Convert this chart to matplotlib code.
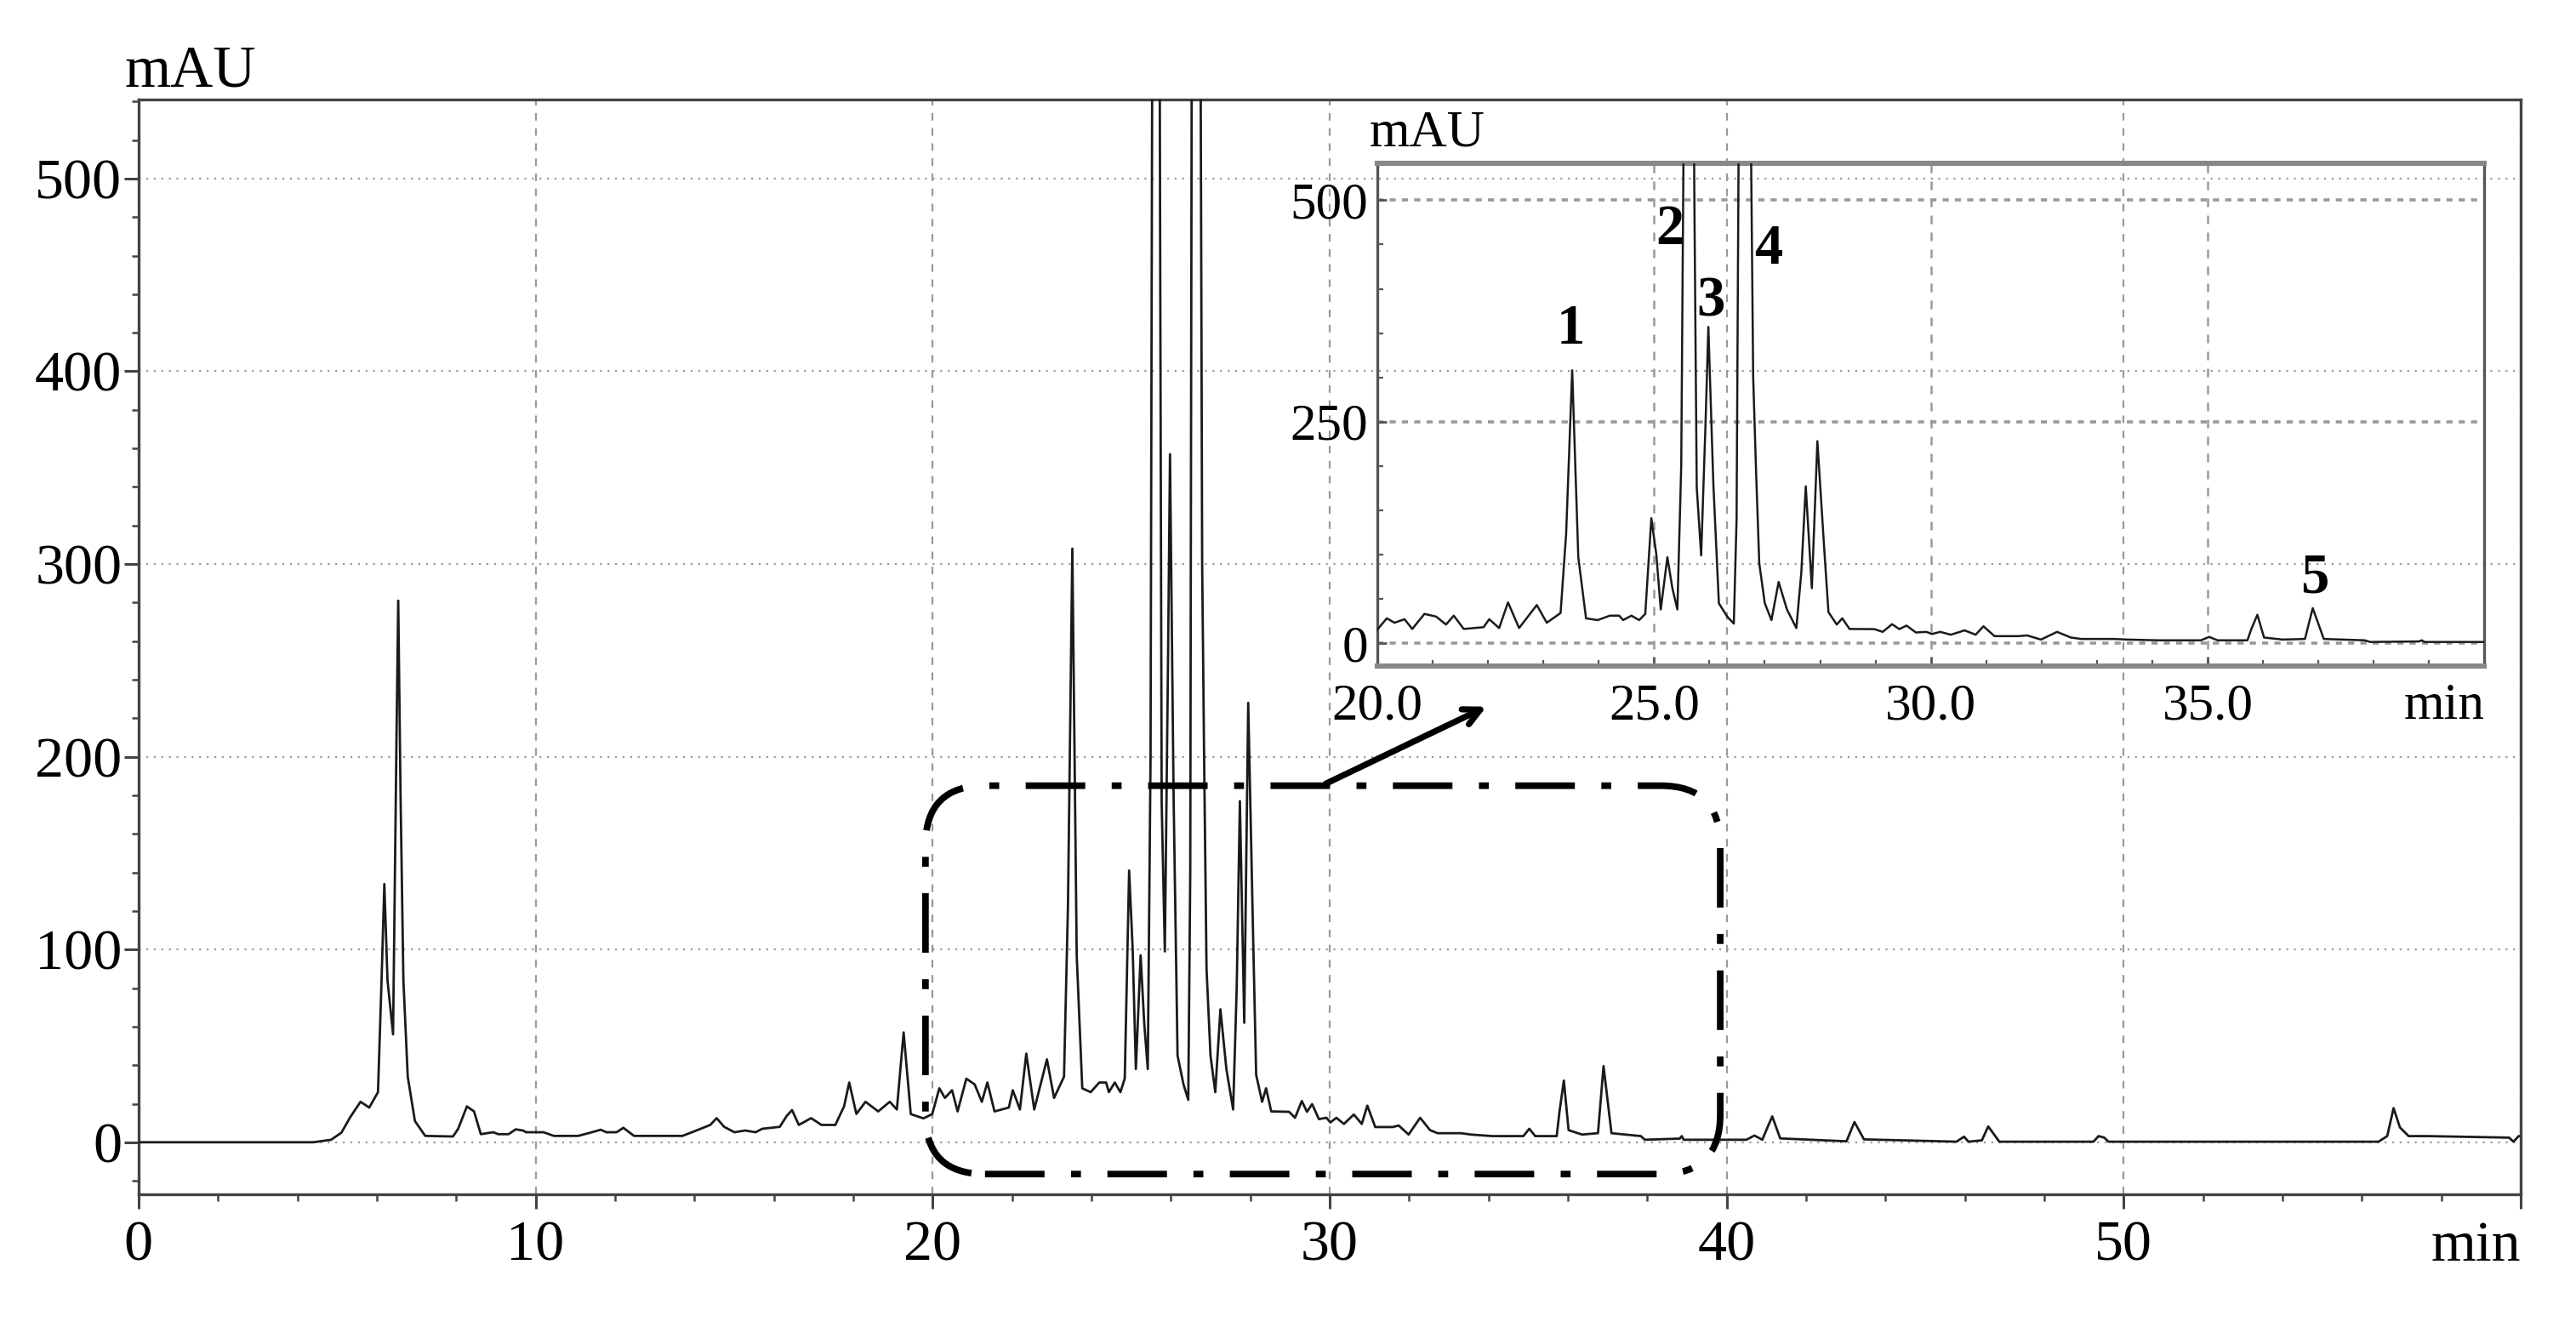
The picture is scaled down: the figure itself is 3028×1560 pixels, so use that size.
import matplotlib.pyplot as plt
from matplotlib.patches import FancyBboxPatch
from matplotlib.ticker import MultipleLocator
from matplotlib.transforms import IdentityTransform

plt.rcParams['font.family'] = ['Liberation Serif', 'DejaVu Serif']

# cromatogramma: tempo (min) e assorbanza (mAU)
# i picchi 2 e 4 escono dalla scala, l'apice e' solo stimato
rt_min = [
    0.0, 4.40, 4.85, 5.11, 5.33, 5.59, 5.81, 6.03, 6.12, 6.19,
    6.27, 6.41, 6.50, 6.54, 6.60, 6.67, 6.78, 6.96, 7.22, 7.92,
    8.05, 8.27, 8.45, 8.62, 8.93, 9.06, 9.32, 9.50, 9.68, 9.76,
    10.20, 10.46, 11.07, 11.42, 11.64, 11.78, 12.04, 12.21, 12.48, 13.70,
    14.05, 14.40, 14.56, 14.75, 15.01, 15.28, 15.54, 15.71, 16.15, 16.33,
    16.46, 16.63, 16.94, 17.20, 17.55, 17.77, 17.90, 18.08, 18.31, 18.63,
    18.92, 19.10, 19.27, 19.45, 19.77, 19.99, 20.17, 20.31, 20.49, 20.63,
    20.85, 21.06, 21.24, 21.38, 21.56, 21.92, 22.02, 22.20, 22.36, 22.56,
    22.88, 23.06, 23.31, 23.41, 23.52, 23.63, 23.77, 23.98, 24.20, 24.37,
    24.44, 24.59, 24.73, 24.84, 24.95, 25.04, 25.12, 25.24, 25.33, 25.42,
    25.49, 25.63, 25.73, 25.77, 25.85, 25.93, 25.98, 26.07, 26.17, 26.32,
    26.44, 26.49, 26.61, 26.79, 26.84, 26.90, 27.00, 27.12, 27.25, 27.40,
    27.57, 27.66, 27.74, 27.85, 27.95, 28.07, 28.15, 28.30, 28.40, 28.53,
    28.98, 29.13, 29.30, 29.43, 29.56, 29.73, 29.92, 30.02, 30.17, 30.36,
    30.61, 30.81, 30.95, 31.15, 31.59, 31.74, 31.99, 32.28, 32.53, 32.72,
    33.31, 33.56, 34.10, 34.88, 35.03, 35.18, 35.72, 35.79, 35.90, 36.02,
    36.36, 36.76, 36.90, 37.10, 37.84, 37.94, 38.82, 38.87, 38.92, 40.50,
    40.70, 40.90, 41.00, 41.15, 41.35, 43.02, 43.22, 43.46, 45.79, 45.98,
    46.09, 46.43, 46.59, 46.87, 49.24, 49.37, 49.51, 49.62, 56.42, 56.64,
    56.80, 56.96, 57.18, 57.66, 59.71, 59.82, 59.95, 60.00,
]
signal_mau = [
    0, 0, 1.3, 5, 13, 21, 18, 26, 84, 134,
    84, 56, 216, 281, 178, 84, 34, 11, 3.3, 3,
    7, 18.6, 16, 4.2, 5.2, 4.2, 4.2, 6.7, 6.1, 5.2,
    5.2, 3.3, 3.3, 5.2, 6.5, 5.2, 5.2, 7.5, 3.3, 3.3,
    6.1, 9, 12.5, 8, 5.2, 6.1, 5.2, 7, 8, 13.8,
    16.7, 9, 12.5, 9, 9, 18.6, 31, 14.7, 21, 16,
    21, 17, 57, 14.6, 12.4, 14.6, 28, 23, 27, 16,
    33, 30, 21, 31, 16, 18, 27, 17, 46, 17,
    43, 23, 34, 123, 308, 97, 28, 26, 31, 31,
    26, 31, 26, 33, 141, 100, 38, 97, 62, 38,
    200, 1400, 480, 176, 99, 250, 357, 180, 45, 30,
    22, 140, 1500, 300, 198, 90, 45, 26, 69, 38,
    17, 80, 177, 62, 228, 110, 35, 21, 28, 16,
    15.8, 12.7, 21.4, 15.8, 19.8, 12, 12.7, 10.3, 12.7, 9.5,
    14.4, 9.5, 19, 7.9, 7.9, 8.7, 4, 12.7, 6.3, 4.7,
    4.7, 4, 3.2, 3.2, 7, 3.2, 3.2, 15.8, 32, 6.3,
    4, 4.7, 39.5, 4.7, 3.2, 1.3, 1.9, 3.2, 1.3, 1.3,
    3.5, 1.3, 6.3, 13.4, 2, 0.5, 10.5, 1.5, 0.3, 2.9,
    0.3, 1, 8.2, 0.3, 0.3, 3.2, 2.4, 0.3, 0.3, 3.2,
    17.7, 7.7, 3.2, 3.2, 2.4, 0.3, 3.2, 3.2,
]

# etichette dei picchi nell'ingrandimento
peak_ids = ['1', '2', '3', '4', '5']
peak_label_rt = [23.49, 25.29, 26.02, 27.07, 36.93]
peak_label_mau = [354, 466, 385, 444, 73]

main_xticks = [0, 10, 20, 30, 40, 50, 60]
main_xlabels = ['0', '10', '20', '30', '40', '50', 'min']
main_yticks = [0, 100, 200, 300, 400, 500]
inset_xticks = [20, 25, 30, 35, 40]
inset_xlabels = ['20.0', '25.0', '30.0', '35.0', 'min']
inset_yticks = [0, 250, 500]

# riquadro della zona ingrandita e freccia verso l'inserto
zoom_rt = (19.82, 39.84)
zoom_mau = (-16.5, 185)
arrow_from = (29.9, 186)
arrow_to = (33.95, 226)

fig = plt.figure(figsize=(15.14, 7.8), dpi=200)

# --- grafico principale ---
ax = fig.add_axes([0.0538, 0.100, 0.9247, 0.825])
ax.plot(rt_min, signal_mau, color='#1a1a1a', lw=1.0, zorder=3)
ax.set_xlim(0, 60)
ax.set_ylim(-27, 541)
ax.set_xticks(main_xticks)
ax.set_xticklabels(main_xlabels)
ax.xaxis.get_major_ticks()[-1].label1.set_horizontalalignment('right')
ax.set_yticks(main_yticks)
ax.xaxis.set_minor_locator(MultipleLocator(2))
ax.yaxis.set_minor_locator(MultipleLocator(20))
ax.tick_params(which='major', direction='out', length=6, width=1.1,
               labelsize=24.5, color='#444')
ax.tick_params(which='minor', direction='out', length=3, width=0.9, color='#444')
ax.tick_params(axis='y', pad=1)
ax.tick_params(axis='x', pad=5)
for s in ax.spines.values():
    s.set_color('#444')
    s.set_linewidth(1.2)
ax.grid(axis='x', which='major', color='#999999', lw=0.8, ls=(0, (4, 4)), zorder=1)
ax.grid(axis='y', which='major', color='#999999', lw=0.8, ls=(0, (1, 3)), zorder=1)
fig.text(0.0485, 0.935, 'mAU', fontsize=25, ha='left', va='baseline')

# riquadro arrotondato tratto-punto (disegnato in pixel per avere angoli circolari)
x0, y0 = ax.transData.transform((zoom_rt[0], zoom_mau[0]))
x1, y1 = ax.transData.transform((zoom_rt[1], zoom_mau[1]))
box = FancyBboxPatch((x0, y0), x1 - x0, y1 - y0,
                     boxstyle='round,pad=0,rounding_size=70',
                     transform=IdentityTransform(), fill=False,
                     ec='black', lw=2.8, ls=(0, (9, 4, 1.5, 4)), zorder=5)
fig.add_artist(box)
ax.annotate('', xy=arrow_to, xytext=arrow_from,
            arrowprops=dict(arrowstyle='->,head_length=0.7,head_width=0.35',
                            lw=2.6, color='black', shrinkA=0, shrinkB=0),
            zorder=6)

# --- inserto 20-40 min ---
axin = fig.add_axes([0.5347, 0.498, 0.4297, 0.3788])
axin.patch.set_alpha(0)
axin.plot(rt_min, signal_mau, color='#1a1a1a', lw=0.9, zorder=3)
axin.set_xlim(20, 40)
axin.set_ylim(-26, 541.5)
axin.set_xticks(inset_xticks)
axin.set_xticklabels(inset_xlabels)
axin.xaxis.get_major_ticks()[-1].label1.set_horizontalalignment('right')
axin.set_yticks(inset_yticks)
axin.xaxis.set_minor_locator(MultipleLocator(1))
axin.yaxis.set_minor_locator(MultipleLocator(50))
axin.tick_params(which='major', direction='in', length=4, width=1,
                 labelsize=22, color='#555')
axin.tick_params(which='minor', direction='in', length=2.5, width=0.8, color='#555')
axin.tick_params(axis='x', pad=7)
axin.tick_params(axis='y', pad=4)
for side, s in axin.spines.items():
    s.set_color('#555')
    s.set_linewidth(1.2)
axin.spines['top'].set_color('#888')
axin.spines['top'].set_linewidth(2.2)
axin.spines['bottom'].set_color('#888')
axin.spines['bottom'].set_linewidth(2.2)
axin.grid(axis='x', which='major', color='#999999', lw=0.9, ls=(0, (4, 4)), zorder=1)
axin.grid(axis='y', which='major', color='#999999', lw=1.3, ls=(0, (2, 2)), zorder=1)
fig.text(0.5317, 0.890, 'mAU', fontsize=22, ha='left', va='baseline')

for pid, prt, pmau in zip(peak_ids, peak_label_rt, peak_label_mau):
    axin.text(prt, pmau, pid, fontsize=24, fontweight='bold',
              ha='center', va='center', zorder=4)

fig.savefig('out.png', dpi=200)
